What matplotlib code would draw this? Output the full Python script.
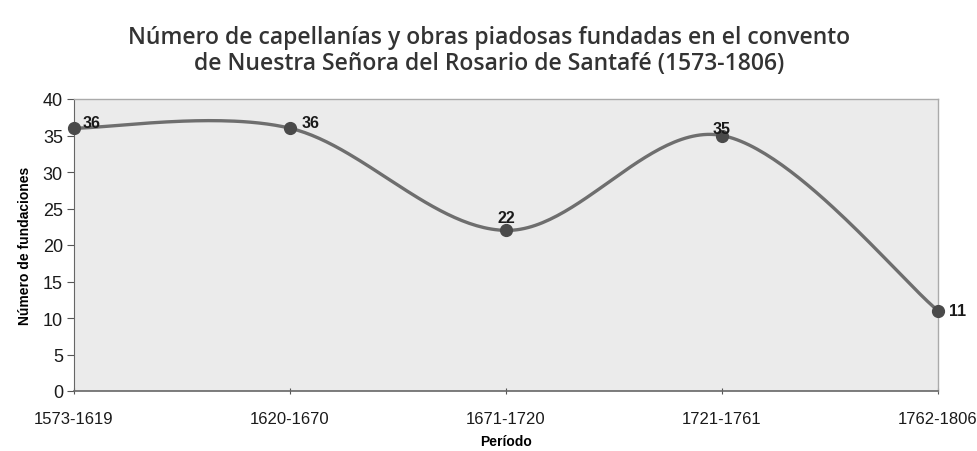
import numpy as np
import matplotlib.pyplot as plt

# Datos
periodos = ["1573-1619", "1620-1670", "1671-1720", "1721-1761", "1762-1806"]
fundaciones = [36, 36, 22, 35, 11]


# Curva suavizada tipo Excel (Bezier con tangentes Catmull-Rom)
def curva_suave(x, y, n=60):
    x = np.asarray(x, dtype=float)
    y = np.asarray(y, dtype=float)
    px = np.concatenate([[x[0]], x, [x[-1]]])
    py = np.concatenate([[y[0]], y, [y[-1]]])
    xs, ys = [], []
    t = np.linspace(0, 1, n)
    for i in range(1, len(px) - 2):
        p0 = np.array([px[i], py[i]])
        p3 = np.array([px[i + 1], py[i + 1]])
        p1 = p0 + (np.array([px[i + 1], py[i + 1]]) - np.array([px[i - 1], py[i - 1]])) / 6
        p2 = p3 - (np.array([px[i + 2], py[i + 2]]) - np.array([px[i], py[i]])) / 6
        b = ((1 - t) ** 3)[:, None] * p0 + (3 * (1 - t) ** 2 * t)[:, None] * p1 \
            + (3 * (1 - t) * t ** 2)[:, None] * p2 + (t ** 3)[:, None] * p3
        xs.extend(b[:, 0])
        ys.extend(b[:, 1])
    return np.array(xs), np.array(ys)


fig = plt.figure(figsize=(9.78, 4.52), dpi=100)
ax = fig.add_axes([74 / 978, 1 - 392 / 452, 864 / 978, 292 / 452])
ax.set_facecolor("#ebebeb")

xpos = np.arange(len(periodos))
cx, cy = curva_suave(xpos, fundaciones)
ax.plot(cx, cy, color="#6e6e6e", lw=2.4, zorder=3)
ax.plot(xpos, fundaciones, "o", color="#4a4a4a", ms=8.5, zorder=4, clip_on=False)

# Etiquetas de datos (desplazamiento en puntos)
offsets = [(6, 4, "left"), (8, 4, "left"), (0, 9, "center"), (0, 5, "center"), (8, 0, "left")]
for x, y, (dx, dy, ha) in zip(xpos, fundaciones, offsets):
    ax.annotate(str(y), (x, y), xytext=(dx, dy), textcoords="offset points",
                ha=ha, va="center", fontsize=11.5,
                fontweight="bold", color="#1a1a1a", family="Liberation Sans", zorder=5)

ax.set_xlim(0, 4)
ax.set_ylim(0, 40)
ax.set_yticks(range(0, 41, 5))
ax.set_xticks(xpos)
ax.set_xticklabels(periodos)
for lbl in ax.get_xticklabels() + ax.get_yticklabels():
    lbl.set_family("Liberation Sans")
    lbl.set_color("#1a1a1a")
ax.tick_params(axis="y", labelsize=13, length=5, color="#555555", direction="out", pad=3)
ax.tick_params(axis="x", labelsize=12, length=5, color="#555555", direction="inout", pad=12)

for lado in ["top", "right"]:
    ax.spines[lado].set_color("#aaaaaa")
    ax.spines[lado].set_linewidth(1)
ax.spines["left"].set_color("#666666")
ax.spines["bottom"].set_color("#666666")
ax.spines["bottom"].set_linewidth(1.2)

ax.set_ylabel("Número de fundaciones", fontsize=10, fontweight="bold",
              family="Liberation Sans", labelpad=8)
ax.set_xlabel("Período", fontsize=10, fontweight="bold",
              family="Liberation Sans", labelpad=6)

fig.suptitle("Número de capellanías y obras piadosas fundadas en el convento\n"
             "de Nuestra Señora del Rosario de Santafé (1573-1806)",
             y=0.943, fontsize=16.5, fontweight="semibold", family="Open Sans",
             color="#333333", linespacing=1.15)

fig.savefig("out.png", dpi=100)
